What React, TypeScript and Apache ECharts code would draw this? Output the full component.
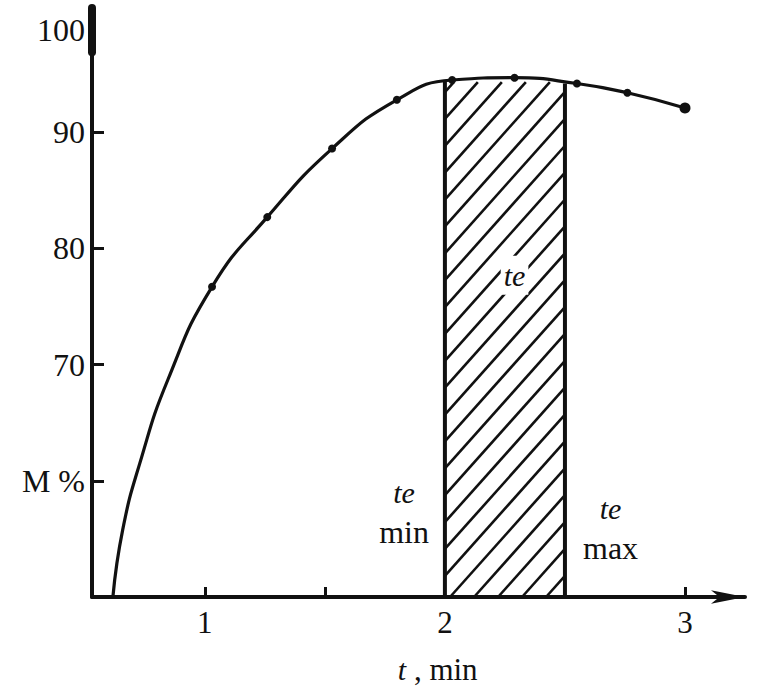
import React, { useEffect, useRef } from "react";
import * as echarts from "echarts";

// Curve (time in min, M %)
const curveT = [0.617, 0.658, 0.729, 0.846, 1.03, 1.26, 1.53, 1.8, 2.03, 2.29, 2.55, 2.76, 3.0];
const curveM = [50, 55.8, 61.5, 68.7, 76.7, 82.7, 88.6, 92.8, 94.5, 94.7, 94.2, 93.4, 92.1];
// Measured points (dots)
const dotT = [1.03, 1.26, 1.53, 1.8, 2.03, 2.29, 2.55, 2.76, 3.0];
const dotM = [76.7, 82.7, 88.6, 92.8, 94.5, 94.7, 94.2, 93.4, 92.1];
// Optimum range
const teMin = 2.0;
const teMax = 2.5;
const teTopMin = 94.5;
const teTopMax = 94.2;
// Axis ticks / labels
const xTickValues = [1, 1.5, 3];
const xLabelValues = [1, 2, 3];
const yTickValues = [60, 70, 80, 90];
const yLabelValues = [60, 70, 80, 90, 98.8];
const yLabelText: Record<string, string> = { "60": "M %", "70": "70", "80": "80", "90": "90", "98.8": "100" };

const X_MIN = 0.53;
const X_MAX = 3.25;
const Y_MIN = 50;
const Y_MAX = 100.7;

const INK = "#111";
const FONT = "'Liberation Serif', 'DejaVu Serif', serif";

export default function App() {
  const ref = useRef<HTMLDivElement>(null);
  useEffect(() => {
    if (!ref.current) return;
    const chart = echarts.init(ref.current, undefined, { renderer: "svg" });
    const curve = curveT.map((t, i) => [t, curveM[i]]);
    const dots = dotT.map((t, i) => ({
      value: [t, dotM[i]],
      symbolSize: i === dotT.length - 1 ? 11 : 8,
    }));

    const richStyles = {
      i: { fontFamily: FONT, fontStyle: "italic", fontSize: 30, color: INK, lineHeight: 39 },
      n: { fontFamily: FONT, fontSize: 32, color: INK, lineHeight: 39 },
    };
    const richAxisName = {
      i: { fontFamily: FONT, fontStyle: "italic", fontSize: 30, color: INK, lineHeight: 30 },
      n: { fontFamily: FONT, fontSize: 31, color: INK, lineHeight: 30 },
    };

    chart.setOption({
      animation: false,
      backgroundColor: "#fff",
      grid: { left: 92, right: 19, top: 8, bottom: 91, containLabel: false },
      xAxis: {
        type: "value",
        min: X_MIN,
        max: X_MAX,
        splitLine: { show: false },
        axisLine: {
          onZero: false,
          lineStyle: { color: INK, width: 4 },
          symbol: ["none", "arrow"],
          symbolSize: [10, 34],
        },
        axisTick: {
          inside: true,
          length: 10,
          lineStyle: { color: INK, width: 3 },
          customValues: xTickValues,
        },
        axisLabel: {
          customValues: xLabelValues,
          margin: 10,
          fontFamily: FONT,
          fontSize: 31,
          color: INK,
          formatter: (v: number) => String(v),
        },
      },
      yAxis: {
        type: "value",
        min: Y_MIN,
        max: Y_MAX,
        splitLine: { show: false },
        axisLine: { onZero: false, lineStyle: { color: INK, width: 4 } },
        axisTick: {
          inside: true,
          length: 12,
          lineStyle: { color: INK, width: 3 },
          customValues: yTickValues,
        },
        axisLabel: {
          customValues: yLabelValues,
          margin: 7,
          fontFamily: FONT,
          fontSize: 32,
          color: INK,
          formatter: (v: number) => yLabelText[String(v)] ?? "",
        },
      },
      series: [
        {
          type: "custom",
          silent: true,
          clip: false,
          z: 2,
          data: [[teMin, teMax, teTopMin, teTopMax]],
          renderItem: (params: any, api: any) => {
            const a = api.value(0);
            const b = api.value(1);
            const topA = api.value(2);
            const topB = api.value(3);
            const bl = api.coord([a, Y_MIN]);
            const tl = api.coord([a, topA]);
            const br = api.coord([b, Y_MIN]);
            const tr = api.coord([b, topB]);
            const x0 = bl[0];
            const x1 = br[0];
            const yB = bl[1];
            const yT = Math.min(tl[1], tr[1]) + 2;
            const k = 1.12;
            const s = 24;
            const children: any[] = [];
            for (let c = yT + k * x0 + 10; c < yB + k * x1; c += k * s) {
              const xa = Math.max(x0, (c - yB) / k);
              const xb = Math.min(x1, (c - yT) / k);
              if (xb <= xa) continue;
              children.push({
                type: "line",
                shape: { x1: xa, y1: c - k * xa, x2: xb, y2: c - k * xb },
                style: { stroke: INK, lineWidth: 2.6 },
              });
            }
            children.push({
              type: "line",
              shape: { x1: bl[0], y1: bl[1], x2: tl[0], y2: tl[1] },
              style: { stroke: INK, lineWidth: 4 },
            });
            children.push({
              type: "line",
              shape: { x1: br[0], y1: br[1], x2: tr[0], y2: tr[1] },
              style: { stroke: INK, lineWidth: 4 },
            });
            return { type: "group", children };
          },
        },
        {
          type: "line",
          data: [
            [X_MIN, 96.9],
            [X_MIN, Y_MAX],
          ],
          showSymbol: false,
          silent: true,
          clip: false,
          lineStyle: { color: INK, width: 8, cap: "round" },
          z: 3,
        },
        {
          type: "line",
          data: curve,
          smooth: 0.5,
          showSymbol: false,
          silent: true,
          clip: false,
          lineStyle: { color: INK, width: 3.2 },
          z: 4,
        },
        {
          type: "scatter",
          data: dots,
          symbol: "circle",
          itemStyle: { color: INK, opacity: 1 },
          silent: true,
          z: 5,
        },
        {
          type: "scatter",
          symbolSize: 0,
          silent: true,
          clip: false,
          itemStyle: { opacity: 1 },
          z: 6,
          data: [
            {
              value: [2.29, 77.7],
              label: {
                show: true,
                position: "inside",
                color: INK,
                formatter: "{i|te}",
                backgroundColor: "#fff",
                padding: [0, 3],
                rich: richStyles,
              },
            },
            {
              value: [1.83, 57.3],
              label: { show: true, position: "inside", color: INK, align: "center", formatter: "{i|te}\n{n|min}", rich: richStyles },
            },
            {
              value: [2.69, 55.9],
              label: { show: true, position: "inside", color: INK, align: "center", formatter: "{i|te}\n{n|max}", rich: richStyles },
            },
            {
              value: [1.97, 43.8],
              label: { show: true, position: "inside", color: INK, formatter: "{i|t}{n| , min}", rich: richAxisName },
            },
          ],
        },
      ],
    });
    return () => chart.dispose();
  }, []);
  return (
    <div
      ref={ref}
      style={{ position: "absolute", left: 0, top: 0, width: 764, height: 688, background: "#fff" }}
    />
  );
}
